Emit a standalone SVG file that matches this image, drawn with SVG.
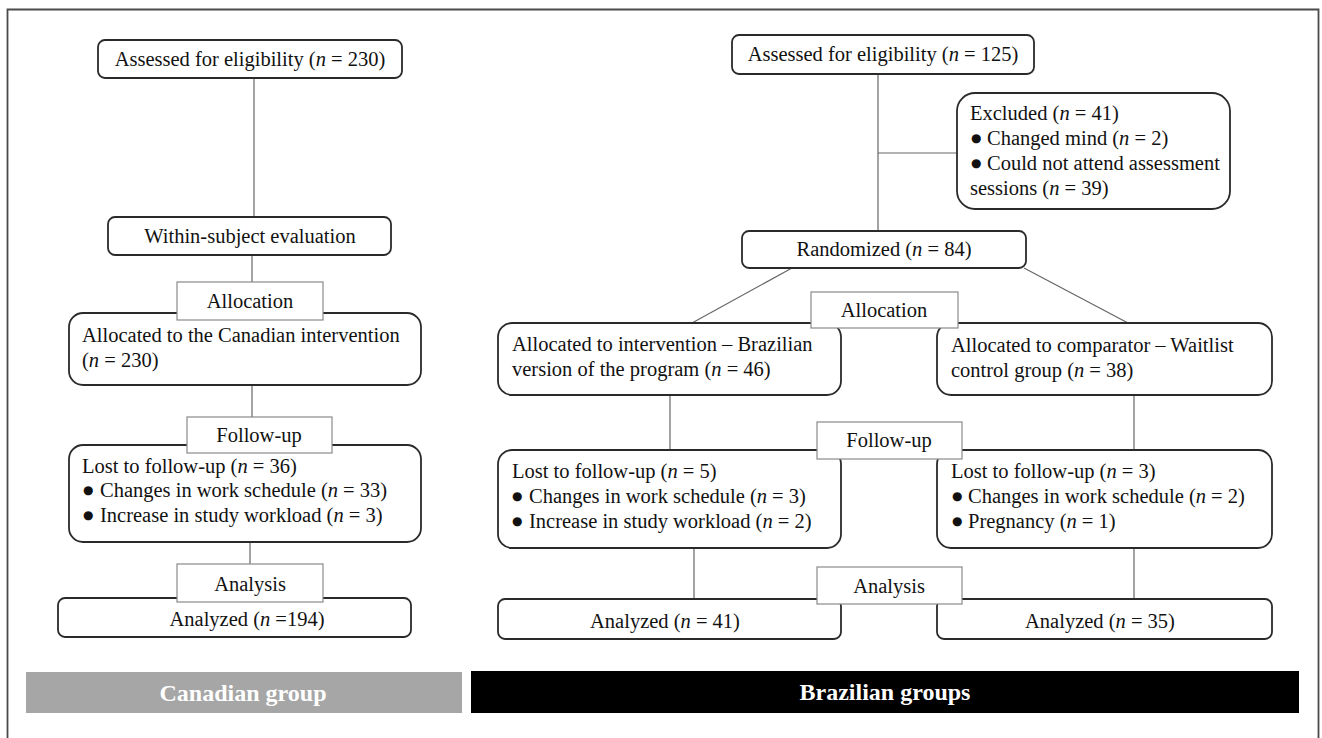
<svg xmlns="http://www.w3.org/2000/svg" width="1322" height="738" viewBox="0 0 1322 738">
<style>
text{font-family:"Liberation Serif","Times New Roman",serif;font-size:20.5px;fill:#111}
.c{text-anchor:middle}
.b{font-family:"DejaVu Sans",sans-serif;font-size:12px}
.box{fill:#fff;stroke:#2a2a2a;stroke-width:1.8}
.lab{fill:#fff;stroke:#8a8a8a;stroke-width:1.2}
.ln{stroke:#666;stroke-width:1.2;fill:none}
.bar{font-weight:bold;font-size:24px;fill:#fff;text-anchor:middle}
</style>
<rect width="1322" height="738" fill="#fff"/>
<path d="M7.5 738 V9.5 H1318.5 V738" fill="none" stroke="#4a4a4a" stroke-width="1.8"/>
<g id="connectors">
<line class="ln" x1="254" y1="78" x2="254" y2="217"/>
<line class="ln" x1="252" y1="255" x2="252" y2="313"/>
<line class="ln" x1="252" y1="385" x2="252" y2="445"/>
<line class="ln" x1="250" y1="542" x2="250" y2="598"/>
<line class="ln" x1="878" y1="74" x2="878" y2="231"/>
<line class="ln" x1="878" y1="153" x2="957" y2="153"/>
<line class="ln" x1="792" y1="268" x2="692" y2="323"/>
<line class="ln" x1="1024" y1="268" x2="1128" y2="323"/>
<line class="ln" x1="670" y1="395" x2="670" y2="450"/>
<line class="ln" x1="1134" y1="395" x2="1134" y2="450"/>
<line class="ln" x1="694" y1="548" x2="694" y2="599"/>
<line class="ln" x1="1134" y1="548" x2="1134" y2="599"/>
</g>
<g id="ca-assessed"><rect class="box" x="98" y="40" width="304" height="38" rx="7"/><text class="c" x="250" y="66">Assessed for eligibility (<tspan font-style="italic">n</tspan> = 230)</text></g>
<g id="ca-within"><rect class="box" x="108" y="217" width="283" height="38" rx="7"/><text class="c" x="250" y="243">Within-subject evaluation</text></g>
<g id="ca-allocated"><rect class="box" x="69" y="313" width="352" height="72" rx="14"/><text x="82" y="342">Allocated to the Canadian intervention</text><text x="82" y="367">(<tspan font-style="italic">n</tspan> = 230)</text></g>
<g id="ca-allocation-label"><rect class="lab" x="177" y="282" width="146" height="38"/><text class="c" x="250" y="308">Allocation</text></g>
<g id="ca-lost"><rect class="box" x="69" y="445" width="352" height="97" rx="14"/><text x="82" y="473">Lost to follow-up (<tspan font-style="italic">n</tspan> = 36)</text><text x="83" y="497"><tspan class="b" dy="-3">●</tspan><tspan x="100" dy="3">Changes in work schedule (</tspan><tspan font-style="italic">n</tspan> = 33)</text><text x="83" y="522"><tspan class="b" dy="-3">●</tspan><tspan x="100" dy="3">Increase in study workload (</tspan><tspan font-style="italic">n</tspan> = 3)</text></g>
<g id="ca-followup-label"><rect class="lab" x="187" y="417" width="145" height="36"/><text class="c" x="259" y="442">Follow-up</text></g>
<g id="ca-analyzed"><rect class="box" x="58" y="598" width="353" height="39" rx="7"/><text class="c" x="247" y="626">Analyzed (<tspan font-style="italic">n</tspan> =194)</text></g>
<g id="ca-analysis-label"><rect class="lab" x="177" y="564" width="146" height="38"/><text class="c" x="250" y="591">Analysis</text></g>
<g id="ca-bar"><rect x="26" y="672" width="436" height="41" fill="#a6a6a6"/><text class="bar" x="243" y="701">Canadian group</text></g>
<g id="br-assessed"><rect class="box" x="732" y="35" width="302" height="39" rx="7"/><text class="c" x="883" y="61">Assessed for eligibility (<tspan font-style="italic">n</tspan> = 125)</text></g>
<g id="br-excluded"><rect class="box" x="957" y="93" width="273" height="116" rx="18"/><text x="970" y="120">Excluded (<tspan font-style="italic">n</tspan> = 41)</text><text x="971" y="145"><tspan class="b" dy="-3">●</tspan><tspan x="987" dy="3">Changed mind (</tspan><tspan font-style="italic">n</tspan> = 2)</text><text x="971" y="170"><tspan class="b" dy="-3">●</tspan><tspan x="987" dy="3">Could not attend assessment</tspan></text><text x="970" y="195">sessions (<tspan font-style="italic">n</tspan> = 39)</text></g>
<g id="br-randomized"><rect class="box" x="742" y="231" width="284" height="37" rx="7"/><text class="c" x="884" y="256">Randomized (<tspan font-style="italic">n</tspan> = 84)</text></g>
<g id="br-int"><rect class="box" x="498" y="323" width="343" height="72" rx="14"/><text x="512" y="351">Allocated to intervention – Brazilian</text><text x="512" y="376">version of the program (<tspan font-style="italic">n</tspan> = 46)</text></g>
<g id="br-comp"><rect class="box" x="937" y="323" width="335" height="72" rx="14"/><text x="951" y="352">Allocated to comparator – Waitlist</text><text x="951" y="377">control group (<tspan font-style="italic">n</tspan> = 38)</text></g>
<g id="br-allocation-label"><rect class="lab" x="811" y="292" width="147" height="36"/><text class="c" x="884" y="317">Allocation</text></g>
<g id="br-lost-int"><rect class="box" x="498" y="450" width="343" height="98" rx="14"/><text x="512" y="478">Lost to follow-up (<tspan font-style="italic">n</tspan> = 5)</text><text x="512" y="503"><tspan class="b" dy="-3">●</tspan><tspan x="529" dy="3">Changes in work schedule (</tspan><tspan font-style="italic">n</tspan> = 3)</text><text x="512" y="528"><tspan class="b" dy="-3">●</tspan><tspan x="529" dy="3">Increase in study workload (</tspan><tspan font-style="italic">n</tspan> = 2)</text></g>
<g id="br-lost-comp"><rect class="box" x="937" y="450" width="335" height="98" rx="14"/><text x="951" y="478">Lost to follow-up (<tspan font-style="italic">n</tspan> = 3)</text><text x="952" y="503"><tspan class="b" dy="-3">●</tspan><tspan x="968" dy="3">Changes in work schedule (</tspan><tspan font-style="italic">n</tspan> = 2)</text><text x="952" y="528"><tspan class="b" dy="-3">●</tspan><tspan x="968" dy="3">Pregnancy (</tspan><tspan font-style="italic">n</tspan> = 1)</text></g>
<g id="br-followup-label"><rect class="lab" x="817" y="422" width="145" height="37"/><text class="c" x="889" y="447">Follow-up</text></g>
<g id="br-an-int"><rect class="box" x="498" y="599" width="343" height="40" rx="7"/><text class="c" x="665" y="628">Analyzed (<tspan font-style="italic">n</tspan> = 41)</text></g>
<g id="br-an-comp"><rect class="box" x="937" y="599" width="335" height="40" rx="7"/><text class="c" x="1100" y="628">Analyzed (<tspan font-style="italic">n</tspan> = 35)</text></g>
<g id="br-analysis-label"><rect class="lab" x="817" y="567" width="145" height="37"/><text class="c" x="889" y="593">Analysis</text></g>
<g id="br-bar"><rect x="471" y="671" width="828" height="42" fill="#000"/><text class="bar" x="885" y="700">Brazilian groups</text></g>
</svg>
